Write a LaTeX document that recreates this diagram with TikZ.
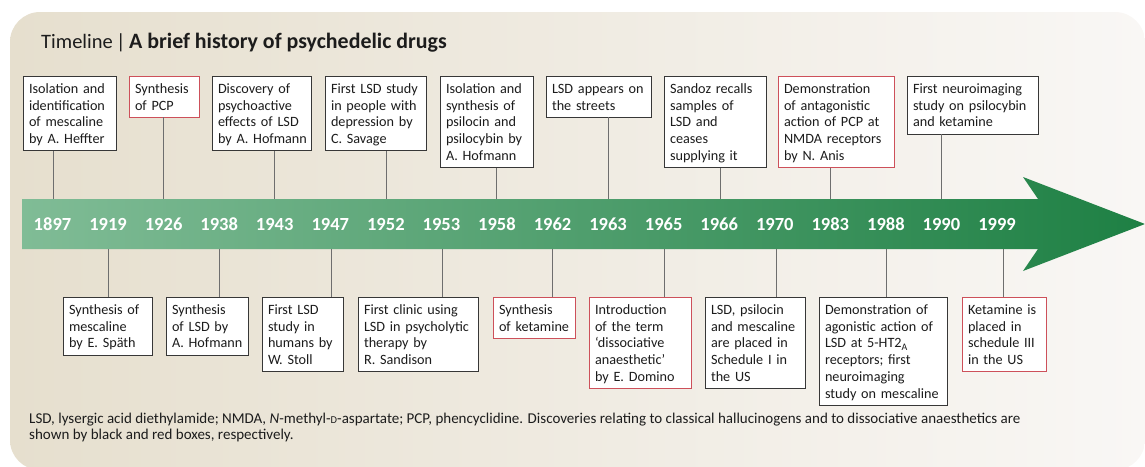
\documentclass[tikz,border=0pt]{standalone}
\usepackage{fontspec}
\setmainfont{Carlito}
\definecolor{bgL}{RGB}{230,223,206}
\definecolor{bgR}{RGB}{249,247,245}
\definecolor{grL}{RGB}{128,188,150}
\definecolor{grM}{RGB}{60,154,100}
\definecolor{grR}{RGB}{30,128,68}
\definecolor{boxk}{RGB}{55,55,55}
\definecolor{boxr}{RGB}{205,80,90}
\definecolor{lnk}{RGB}{110,110,110}
\definecolor{txt}{RGB}{28,28,28}
\newcommand\evtop{\rule{0pt}{13.5pt}}
\newcommand\evbot{\rule[-3.2pt]{0pt}{3.2pt}}
\tikzset{
  ev/.style={draw=boxk, fill=white, line width=1pt, align=left, anchor=north west,
    inner xsep=6pt, inner ysep=4pt, outer sep=0pt, text=txt,
    font=\fontsize{14.2}{16.7}\selectfont,
    execute at begin node={\hyphenpenalty=10000\exhyphenpenalty=10000\rightskip=-40pt plus 1fil\relax\evtop},
    execute at end node=\evbot},
  evr/.style={ev, draw=boxr},
  yr/.style={text=white, font=\fontsize{18.5}{18.5}\selectfont\bfseries,
    minimum height=50pt, inner xsep=0pt, inner ysep=0pt, anchor=center},
  lk/.style={draw=lnk, line width=1pt}
}
\begin{document}
\begin{tikzpicture}[x=1pt,y=-1pt]
\useasboundingbox (0,0) rectangle (1145,466);
% background panel
\shade[left color=bgL, right color=bgR, rounded corners=30pt] (10,12) rectangle (1145,470);
% title
\node[anchor=base west, inner sep=0pt, text=txt, font=\fontsize{20.5}{24}\selectfont] (title) at (41,48)
  {Timeline\,|\,{\fontsize{21.9}{24}\selectfont\bfseries A brief history of psychedelic drugs}};
% arrow
\shade[left color=grL, middle color=grM, right color=grR]
  (22,199) -- (1038,199) -- (1023,177) -- (1145,224) -- (1023,271) -- (1038,249) -- (22,249) -- cycle;
% years
\foreach \yy [count=\i from 0] in {1897,1919,1926,1938,1943,1947,1952,1953,1958,1962,1963,1965,1966,1970,1983,1988,1990,1999}
  \node[yr] (y\yy) at ({52.5+55.56*\i},224) {\yy};
% top boxes
\node[ev,text width=81pt] (b1897) at (23,76) {Isolation and\\identification\\of mescaline\\by A. Heffter};
\node[evr,text width=58pt] (b1926) at (129,76) {Synthesis\\of PCP};
\node[ev,text width=87pt] (b1943) at (212,76) {Discovery of\\psychoactive\\effects of LSD\\by A. Hofmann};
\node[ev,text width=89pt] (b1952) at (325,76) {First LSD study\\in people with\\depression by\\C. Savage};
\node[ev,text width=81pt] (b1958) at (440,76) {Isolation and\\synthesis of\\psilocin and\\psilocybin by\\A. Hofmann};
\node[ev,text width=93pt] (b1963) at (546,76) {LSD appears on\\the streets};
\node[ev,text width=90pt] (b1966) at (664,76) {Sandoz recalls\\samples of\\LSD and\\ceases\\supplying it};
\node[evr,text width=104pt] (b1983) at (778,76) {Demonstration\\of antagonistic\\action of PCP at\\NMDA receptors\\by N. Anis};
\node[ev,text width=119pt] (b1990) at (907,76) {First neuroimaging\\study on psilocybin\\and ketamine};
% bottom boxes
\node[ev,text width=77pt] (b1919) at (63,297) {Synthesis of\\mescaline\\by E. Späth};
\node[ev,text width=70pt] (b1938) at (166,297) {Synthesis\\of LSD by\\A. Hofmann};
\node[ev,text width=69pt] (b1947) at (262,297) {First LSD\\study in\\humans by\\W. Stoll};
\node[ev,text width=108pt] (b1953) at (358,297) {First clinic using\\LSD in psycholytic\\therapy by\\R. Sandison};
\node[evr,text width=70pt] (b1962) at (493,297) {Synthesis\\of ketamine};
\node[evr,text width=90pt] (b1965) at (589,297) {Introduction\\of the term\\‘dissociative\\anaesthetic’\\by E. Domino};
\node[ev,text width=88pt] (b1970) at (705,297) {LSD, psilocin\\and mescaline\\are placed in\\Schedule I in\\the US};
\node[ev,text width=116pt] (b1988) at (819,297) {Demonstration of\\agonistic action of\\LSD at 5-HT2\textsubscript{A}\\receptors; first\\neuroimaging\\study on mescaline};
\node[evr,text width=72pt] (b1999) at (962,297) {Ketamine is\\placed in\\schedule III\\in the US};
% connectors top
\foreach \yy/\dx in {1897/1,1926/0,1943/0,1952/1,1958/0,1963/0,1966/1,1983/0,1990/0}
  \draw[lk] ([xshift=\dx pt]y\yy.north) -- ([xshift=\dx pt]y\yy.north |- b\yy.south);
% connectors bottom
\foreach \yy/\dx in {1919/0,1938/0,1947/1.5,1953/1,1962/0,1965/1,1970/2,1988/1,1999/6}
  \draw[lk] ([xshift=\dx pt]y\yy.south) -- ([xshift=\dx pt]y\yy.south |- b\yy.north);
% caption
\node[anchor=base west, inner sep=0pt, align=left, text=txt, font=\fontsize{15}{16}\selectfont] (cap) at (29,439)
  {LSD, lysergic acid diethylamide; NMDA, \textit{N}-methyl-{\fontsize{10.5}{11}\selectfont D}-aspartate; PCP, phencyclidine. Discoveries relating to classical hallucinogens and to dissociative anaesthetics are\\shown by black and red boxes, respectively.};
\end{tikzpicture}
\end{document}
